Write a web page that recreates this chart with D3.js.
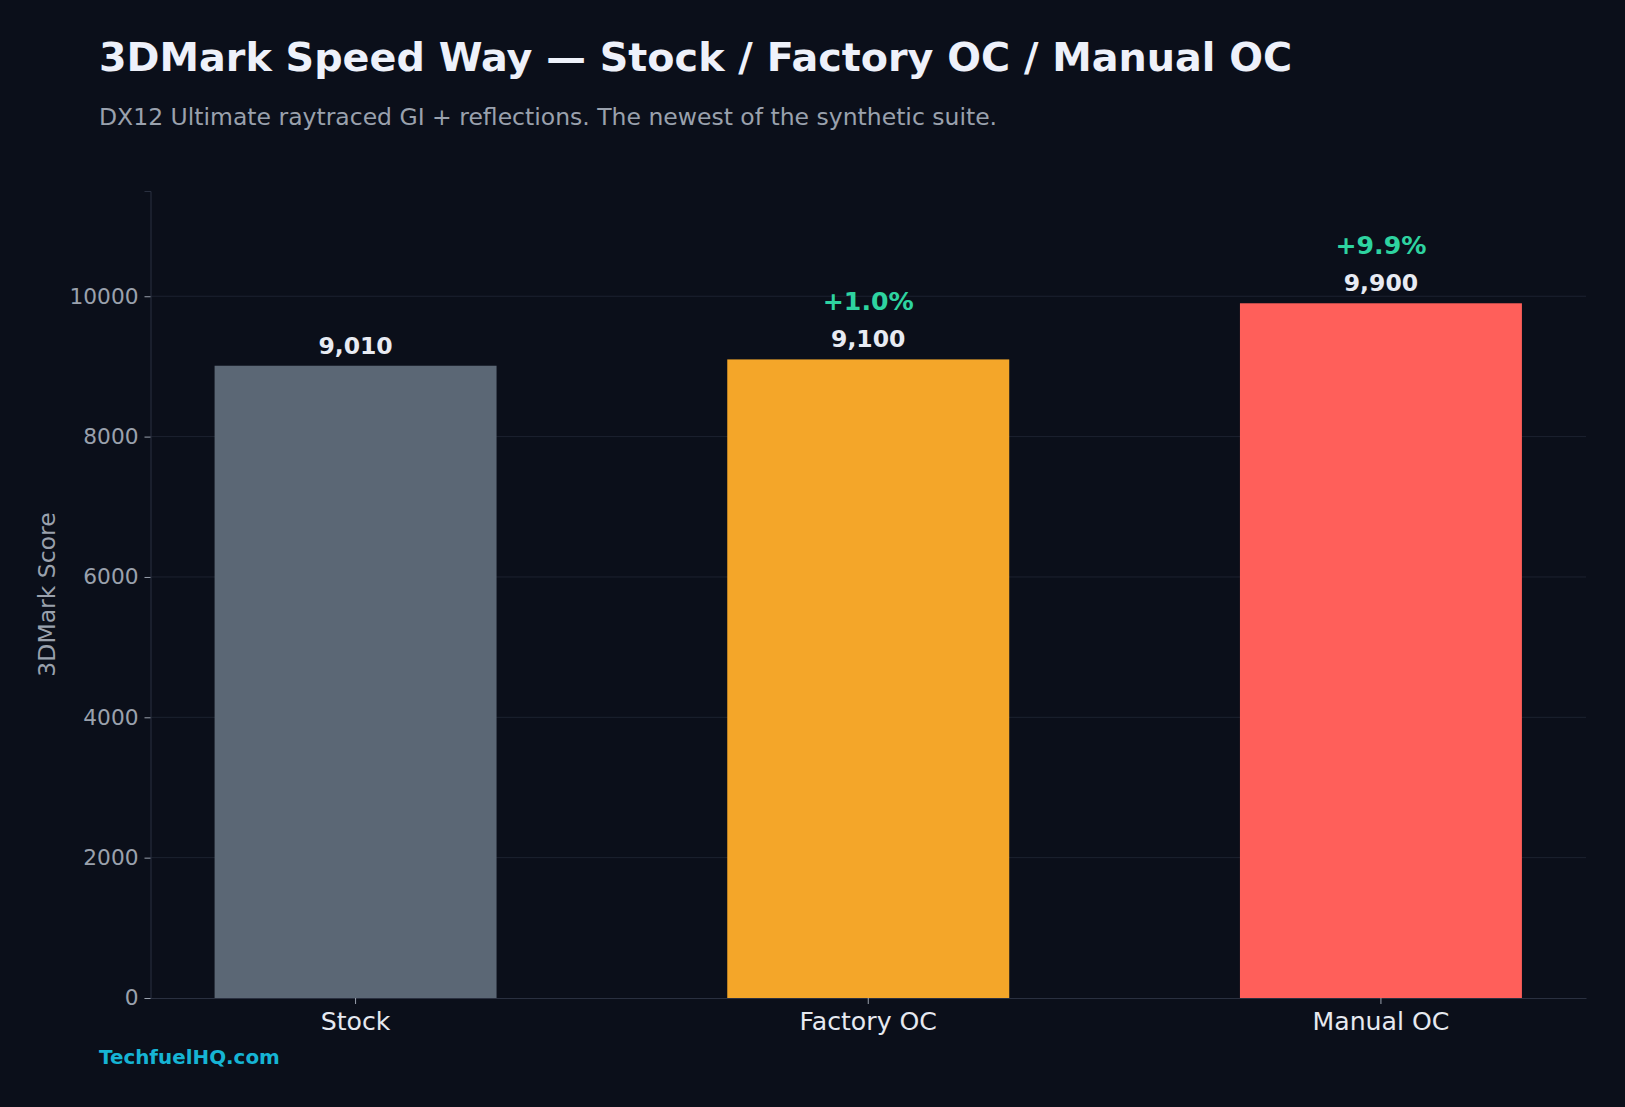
<!DOCTYPE html>
<html>
<head>
<meta charset="utf-8">
<script src="https://cdn.jsdelivr.net/npm/d3@7"></script>
<style>
  html, body { margin: 0; padding: 0; background: #0b0f1a; }
  svg { display: block; font-family: "DejaVu Sans", sans-serif; }
</style>
</head>
<body>
<div id="chart"></div>
<script>
// chart data
const categories = ['Stock', 'Factory OC', 'Manual OC']
const scores = [9010, 9100, 9900]
const barColors = ['#5b6775', '#f4a629', '#ff5f5a']
const yTicks = [0, 2000, 4000, 6000, 8000, 10000]

let width = 1625,
    height = 1107,
    margin = {left: 150.5, right: 39, top: 191, bottom: 109}

let svg = d3.select('#chart')
  .append('svg')
  .attr('width', width)
  .attr('height', height)

svg.append('rect').attr('width', width).attr('height', height).attr('fill', '#0b0f1a')

// scales
let x = d3.scaleBand()
  .domain(categories)
  .range([margin.left, width - margin.right])
  .paddingInner(0.45)
  .paddingOuter(0.125)

let y = d3.scaleLinear()
  .domain([0, 11500])
  .range([height - margin.bottom, margin.top])

// gridlines
svg.append('g')
  .selectAll('line')
  .data(yTicks.slice(1))
  .enter().append('line')
  .attr('x1', margin.left).attr('x2', width - margin.right)
  .attr('y1', d => y(d)).attr('y2', d => y(d))
  .attr('stroke', '#1c2230')
  .attr('stroke-width', 1)

// bars
svg.append('g')
  .selectAll('rect')
  .data(scores)
  .enter().append('rect')
  .attr('x', (d, i) => x(categories[i]))
  .attr('width', x.bandwidth())
  .attr('y', d => y(d))
  .attr('height', d => y(0) - y(d))
  .attr('fill', (d, i) => barColors[i])

// y axis
let yAxis = svg.append('g')
  .attr('transform', 'translate(' + margin.left + ',0)')
  .call(d3.axisLeft(y).tickValues(yTicks).tickFormat(d3.format('d')).tickSize(6).tickPadding(6))
yAxis.select('.domain').attr('stroke', '#2a3040')
yAxis.selectAll('.tick line').attr('stroke', '#9aa1ad')
yAxis.selectAll('.tick text')
  .attr('fill', '#9aa1ad')
  .style('font-size', '21.7px')
  .style('font-family', '"DejaVu Sans", sans-serif')

// x axis
let xAxis = svg.append('g')
  .attr('transform', 'translate(0,' + y(0) + ')')
  .call(d3.axisBottom(x).tickSize(6).tickPadding(8).tickSizeOuter(0))
xAxis.select('.domain').attr('stroke', '#2a3040')
xAxis.selectAll('.tick line').attr('stroke', '#9aa1ad')
xAxis.selectAll('.tick text')
  .attr('fill', '#e6e9f0')
  .style('font-size', '25.2px')
  .style('font-family', '"DejaVu Sans", sans-serif')

// value labels
svg.append('g')
  .selectAll('text')
  .data(scores)
  .enter().append('text')
  .attr('x', (d, i) => x(categories[i]) + x.bandwidth() / 2)
  .attr('y', d => y(d) - 12)
  .attr('text-anchor', 'middle')
  .attr('fill', '#e8ebf3')
  .style('font-size', '23.5px')
  .style('font-weight', 'bold')
  .text(d => d3.format(',')(d))

// percent gain over stock
svg.append('g')
  .selectAll('text')
  .data(scores.slice(1))
  .enter().append('text')
  .attr('x', (d, i) => x(categories[i + 1]) + x.bandwidth() / 2)
  .attr('y', d => y(d) - 49)
  .attr('text-anchor', 'middle')
  .attr('fill', '#2ed3a0')
  .style('font-size', '25.2px')
  .style('font-weight', 'bold')
  .text(d => '+' + ((d / scores[0] - 1) * 100).toFixed(1) + '%')

// y label
svg.append('text')
  .attr('transform', 'translate(55,' + (margin.top + (y(0) - margin.top) / 2) + ') rotate(-90)')
  .attr('text-anchor', 'middle')
  .attr('fill', '#9aa1ad')
  .style('font-size', '23.5px')
  .text('3DMark Score')

// title + subtitle
svg.append('text')
  .attr('x', 99).attr('y', 71)
  .attr('fill', '#eef1fa')
  .style('font-size', '39.7px')
  .style('font-weight', 'bold')
  .text('3DMark Speed Way — Stock / Factory OC / Manual OC')

svg.append('text')
  .attr('x', 99).attr('y', 125)
  .attr('fill', '#9aa1ad')
  .style('font-size', '23.5px')
  .text('DX12 Ultimate raytraced GI + reflections. The newest of the synthetic suite.')

// footer
svg.append('text')
  .attr('x', 99).attr('y', 1064)
  .attr('fill', '#16b4d4')
  .style('font-size', '19.9px')
  .style('font-weight', 'bold')
  .text('TechfuelHQ.com')
</script>
</body>
</html>
